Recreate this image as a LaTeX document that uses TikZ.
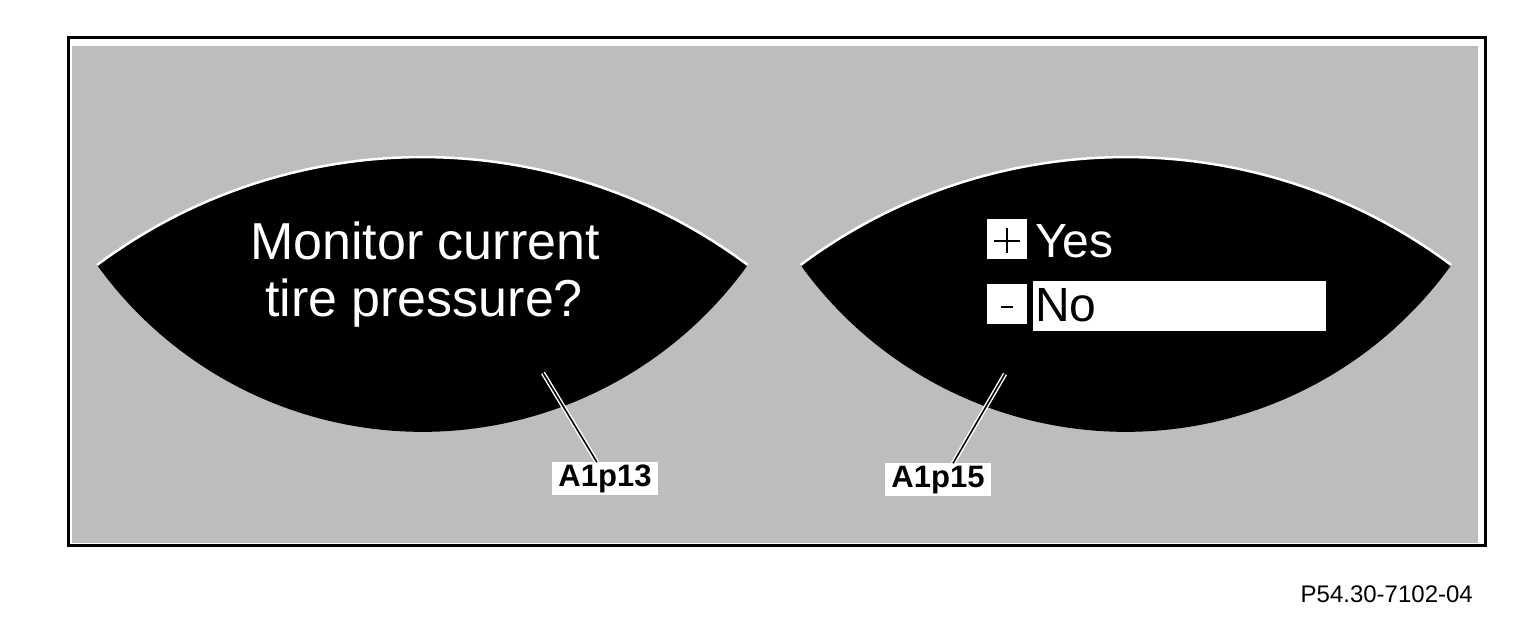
\documentclass[tikz,border=0pt]{standalone}
\usepackage{fontspec}
\setmainfont{Liberation Sans}
\begin{document}
\begin{tikzpicture}[x=1pt,y=1pt,
  lens/.style={fill=black},
  rim/.style={draw=white,line width=2.5pt},
  screentext/.style={text=white,font=\fontsize{52}{60}\selectfont,inner sep=0pt},
  menutext/.style={font=\fontsize{48}{56}\selectfont,inner sep=0pt},
  keybox/.style={fill=white,minimum width=40pt,minimum height=40pt,inner sep=0pt},
  keystroke/.style={draw=black,line width=2pt},
  tag/.style={fill=white,inner sep=0pt,minimum width=106pt,minimum height=33pt,font=\bfseries\fontsize{31}{32}\selectfont},
  halo/.style={draw=white,line width=4.5pt},
  leader/.style={draw=black,line width=1.6pt}]
\useasboundingbox (0,0) rectangle (1540,628);
\fill[white] (0,0) rectangle (1540,628);
% frame
\fill[fill={rgb,255:red,189;green,189;blue,189}] (72,582) rectangle (1478,85);
\draw[line width=3pt] (68,590) rectangle (1485,82);
% lenses
\foreach \dx in {0,703.5}{
  \begin{scope}[shift={(\dx,0)}]
    \fill[lens] (97,363) arc[start angle=126.7,end angle=53.3,radius=544.5]
                arc[start angle=-35.7,end angle=-144.3,radius=400.7] -- cycle;
    \draw[rim] (97,363) arc[start angle=126.7,end angle=53.3,radius=544.5];
  \end{scope}
}
% left screen text
\node[screentext,anchor=base] (l1) at (425,368) {Monitor current};
\node[screentext,anchor=base] (l2) at (424,311) {tire pressure?};
% right screen menu
\node[keybox] (plus) at (1007,389) {};
\draw[keystroke] ([xshift=-13pt,yshift=-2pt]plus.center) -- ([xshift=13pt,yshift=-2pt]plus.center);
\draw[keystroke] ([yshift=-14.5pt]plus.center) -- ([yshift=10.5pt]plus.center);
\node[menutext,text=white,anchor=base west] (yes) at (1035,370) {Yes};
\fill[white] (1033,347) rectangle (1326,297);
\node[keybox] (minus) at (1007,323.5) {};
\draw[keystroke] ([xshift=-6pt,yshift=-2.5pt]minus.center) -- ([xshift=6pt,yshift=-2.5pt]minus.center);
\node[menutext,text=black,anchor=base west] (no) at (1035,306) {No};
% labels
\node[tag] (t13) at (605,149) {A1p13};
\node[tag] (t15) at (938,148) {A1p15};
\coordinate (p13) at (543,255);
\coordinate (p15) at (1005,254);
\draw[halo] (p13) -- (t13.north west -| 597,0);
\draw[leader] (p13) -- (t13.north west -| 597,0);
\draw[halo] (p15) -- (t15.north west -| 953,0);
\draw[leader] (p15) -- (t15.north west -| 953,0);
% figure code
\node[anchor=base east,inner sep=0pt,font=\fontsize{24}{26}\selectfont] (code) at (1473,25) {P54.30-7102-04};
\end{tikzpicture}
\end{document}
